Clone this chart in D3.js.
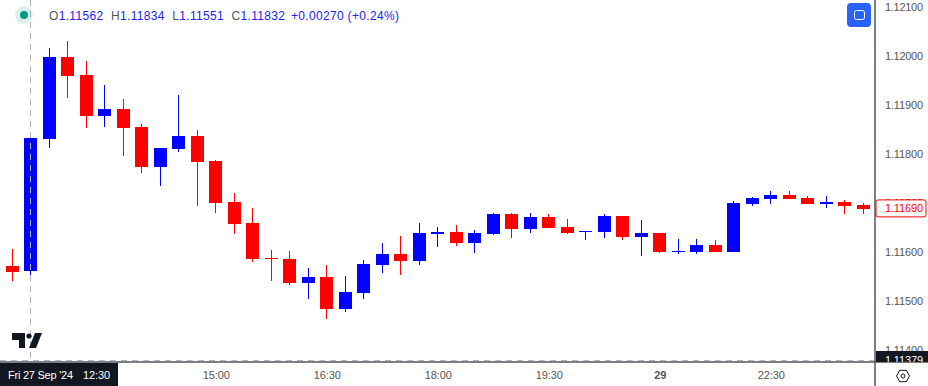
<!DOCTYPE html>
<html>
<head>
<meta charset="utf-8">
<script src="https://cdn.jsdelivr.net/npm/d3@7"></script>
<style>
    html, body { margin: 0; padding: 0; background: #fff; overflow: hidden; }
    text { font-family: "Liberation Sans", sans-serif; }
</style>
</head>
<body>
<svg id="chart" width="928" height="386"></svg>
<script>
const bars = [
    "12:15", "12:30", "12:45", "13:00", "13:15", "13:30", "13:45", "14:00", "14:15", "14:30", "14:45", "15:00",
    "15:15", "15:30", "15:45", "16:00", "16:15", "16:30", "16:45", "17:00", "17:15", "17:30", "17:45", "18:00",
    "18:15", "18:30", "18:45", "19:00", "19:15", "19:30", "19:45", "20:00", "20:15", "20:30", "20:45", "29",
    "21:15", "21:30", "21:45", "22:00", "22:15", "22:30", "22:45", "23:00", "23:15", "23:30", "23:45"
]
const opens = [
    1.11571, 1.11562, 1.11831, 1.11998, 1.11961, 1.11878, 1.11892, 1.11855, 1.11773, 1.11810, 1.11837, 1.11786,
    1.11702, 1.11659, 1.11588, 1.11586, 1.11537, 1.11549, 1.11484, 1.11516, 1.11573, 1.11596, 1.11582, 1.11637,
    1.11641, 1.11618, 1.11637, 1.11678, 1.11647, 1.11671, 1.11651, 1.11641, 1.11641, 1.11673, 1.11631, 1.11639,
    1.11600, 1.11600, 1.11614, 1.11600, 1.11698, 1.11708, 1.11716, 1.11710, 1.11698, 1.11702, 1.11696
]
const highs = [
    1.11606, 1.11834, 1.12016, 1.12031, 1.11990, 1.11941, 1.11912, 1.11861, 1.11812, 1.11920, 1.11849, 1.11788,
    1.11720, 1.11690, 1.11604, 1.11602, 1.11567, 1.11573, 1.11551, 1.11584, 1.11618, 1.11633, 1.11659, 1.11651,
    1.11655, 1.11645, 1.11680, 1.11680, 1.11680, 1.11678, 1.11667, 1.11643, 1.11678, 1.11673, 1.11665, 1.11639,
    1.11627, 1.11627, 1.11624, 1.11704, 1.11712, 1.11724, 1.11724, 1.11714, 1.11714, 1.11706, 1.11700
]
const lows = [
    1.11541, 1.11551, 1.11812, 1.11914, 1.11853, 1.11855, 1.11796, 1.11761, 1.11735, 1.11804, 1.11694, 1.11680,
    1.11637, 1.11580, 1.11541, 1.11533, 1.11504, 1.11463, 1.11478, 1.11504, 1.11557, 1.11553, 1.11573, 1.11610,
    1.11612, 1.11598, 1.11635, 1.11629, 1.11639, 1.11649, 1.11637, 1.11624, 1.11629, 1.11624, 1.11592, 1.11598,
    1.11596, 1.11596, 1.11600, 1.11600, 1.11694, 1.11698, 1.11708, 1.11698, 1.11690, 1.11678, 1.11678
]
const closes = [
    1.11559, 1.11832, 1.11998, 1.11959, 1.11878, 1.11892, 1.11853, 1.11773, 1.11812, 1.11837, 1.11784, 1.11700,
    1.11657, 1.11586, 1.11586, 1.11537, 1.11549, 1.11484, 1.11518, 1.11576, 1.11596, 1.11582, 1.11639, 1.11641,
    1.11618, 1.11639, 1.11678, 1.11647, 1.11671, 1.11649, 1.11639, 1.11643, 1.11673, 1.11631, 1.11639, 1.11600,
    1.11602, 1.11614, 1.11600, 1.11700, 1.11710, 1.11716, 1.11708, 1.11698, 1.11702, 1.11694, 1.11688
]
const priceTicks = [1.114, 1.115, 1.116, 1.117, 1.118, 1.119, 1.12, 1.121]
const timeTicks = ["15:00", "16:30", "18:00", "19:30", "29", "22:30"]
const lastPrice = 1.1169
const crossBar = "12:30"
const crossPrice = 1.11379
const ohlcLegend = [["O", "1.11562"], ["H", "1.11834"], ["L", "1.11551"], ["C", "1.11832"]]
const changeLegend = "+0.00270 (+0.24%)"

const upColor = "#0000ff"
const downColor = "#ff0000"
const axisX = 875
const axisY = 362
const bodyWidth = 13

const svg = d3.select("#chart")
const scX = d3.scalePoint().domain(bars).range([12.25, 863.25])
const scY = d3.scaleLinear().domain([1.114, 1.121]).range([350, 7])

const data = bars.map((b, i) => ({ bar: b, o: opens[i], h: highs[i], l: lows[i], c: closes[i] }))

// candles, snapped to whole pixels like the original canvas
let bodyLeft = d => Math.round(scX(d.bar) - bodyWidth / 2)
let candles = svg.append("g").attr("shape-rendering", "crispEdges")
    .selectAll("g").data(data).enter().append("g")
    .attr("fill", d => d.c >= d.o ? upColor : downColor)
candles.append("rect")
    .attr("x", d => bodyLeft(d) + 6).attr("width", 1)
    .attr("y", d => Math.round(scY(d.h)))
    .attr("height", d => Math.max(1, Math.round(scY(d.l)) - Math.round(scY(d.h))))
candles.append("rect")
    .attr("x", bodyLeft).attr("width", bodyWidth)
    .attr("y", d => Math.round(scY(Math.max(d.o, d.c))))
    .attr("height", d => Math.max(1, Math.round(scY(Math.min(d.o, d.c))) - Math.round(scY(Math.max(d.o, d.c)))))

// crosshair
let cross = svg.append("g").attr("stroke", "#b2b5be").attr("stroke-dasharray", "6 5")
    .attr("shape-rendering", "crispEdges")
cross.append("line")
    .attr("x1", Math.floor(scX(crossBar)) + 0.5).attr("x2", Math.floor(scX(crossBar)) + 0.5)
    .attr("y1", 0).attr("y2", axisY)
cross.append("line")
    .attr("x1", 0).attr("x2", axisX)
    .attr("y1", Math.floor(scY(crossPrice)) + 0.5).attr("y2", Math.floor(scY(crossPrice)) + 0.5)

// price axis
let yAxis = svg.append("g").attr("transform", `translate(${axisX},0)`)
    .call(d3.axisRight(scY).tickValues(priceTicks).tickFormat(d3.format(".5f")).tickSize(0).tickPadding(10))
yAxis.select(".domain").remove()
yAxis.selectAll("text").attr("font-size", 11).attr("fill", "#555")
    .attr("font-family", "Liberation Sans, sans-serif").attr("textLength", 38)

// time axis
let xAxis = svg.append("g").attr("transform", `translate(0,${axisY})`)
    .call(d3.axisBottom(scX).tickValues(timeTicks).tickSize(0).tickPadding(9))
xAxis.select(".domain").remove()
xAxis.selectAll("text").attr("font-size", 11).attr("fill", "#555")
    .attr("font-family", "Liberation Sans, sans-serif")
    .attr("textLength", d => d == "29" ? null : 27)
    .attr("font-weight", d => d == "29" ? "bold" : "normal")

// axis lines
let axisLines = svg.append("g").attr("stroke", "#50535e").attr("stroke-width", 1.5)
axisLines.append("line").attr("x1", 0).attr("x2", 928).attr("y1", axisY).attr("y2", axisY)
axisLines.append("line").attr("x1", axisX).attr("x2", axisX).attr("y1", 0).attr("y2", 386)

// last price tag
let tagY = scY(lastPrice)
svg.append("rect").attr("x", axisX + 1).attr("y", tagY - 8).attr("width", 50).attr("height", 17)
    .attr("rx", 2).attr("fill", "#fff").attr("stroke", downColor)
svg.append("text").attr("x", axisX + 10).attr("y", tagY + 4.5)
    .attr("font-size", 11).attr("fill", downColor).attr("textLength", 38)
    .text(d3.format(".5f")(lastPrice))

// crosshair price label, the text is cut by the time axis
svg.append("clipPath").attr("id", "crossClip").append("rect")
    .attr("x", axisX + 1).attr("y", 351).attr("width", 52).attr("height", axisY - 351)
let crossTag = svg.append("g").attr("clip-path", "url(#crossClip)")
crossTag.append("rect").attr("x", axisX + 1).attr("y", 351).attr("width", 52).attr("height", axisY - 351)
    .attr("fill", "#131722")
crossTag.append("text").attr("x", axisX + 10).attr("y", scY(crossPrice) + 4)
    .attr("font-size", 11).attr("fill", "#fff").attr("textLength", 38)
    .text(d3.format(".5f")(crossPrice))

// crosshair time label
svg.append("rect").attr("x", 0).attr("y", axisY + 1).attr("width", 118).attr("height", 23).attr("fill", "#131722")
svg.append("text").attr("x", 8).attr("y", 379).attr("font-size", 11).attr("fill", "#fff")
    .attr("textLength", 65).text("Fri 27 Sep '24")
svg.append("text").attr("x", 83).attr("y", 379).attr("font-size", 11).attr("fill", "#fff")
    .attr("textLength", 27).text(crossBar)

// legend
svg.append("circle").attr("cx", 24).attr("cy", 15).attr("r", 9).attr("fill", "#089981").attr("fill-opacity", 0.15)
svg.append("circle").attr("cx", 24).attr("cy", 15).attr("r", 4).attr("fill", "#089981")
let legend = svg.append("text").attr("x", 49).attr("y", 20).attr("font-size", 12).attr("letter-spacing", 0.33)
ohlcLegend.forEach((d, i) => {
    legend.append("tspan").attr("fill", "#555").attr("dx", i ? 7.5 : 0).text(d[0])
    legend.append("tspan").attr("fill", "#2222ee").text(d[1])
})
legend.append("tspan").attr("fill", "#2222ee").attr("dx", 5.5).text(changeLegend)

// fit button
svg.append("rect").attr("x", 847).attr("y", 3).attr("width", 24).attr("height", 24).attr("rx", 4).attr("fill", "#2962ff")
svg.append("rect").attr("x", 854.5).attr("y", 10.5).attr("width", 10).attr("height", 9).attr("rx", 2)
    .attr("fill", "none").attr("stroke", "#fff")

// settings hexagon
svg.append("path").attr("d", "M896.5 376l3.2-5.7h6.6l3.2 5.7-3.2 5.7h-6.6z")
    .attr("fill", "none").attr("stroke", "#131722")
svg.append("circle").attr("cx", 903).attr("cy", 376).attr("r", 2).attr("fill", "none").attr("stroke", "#131722")

// logo
let logo = svg.append("g").attr("fill", "#131722")
logo.append("path").attr("d", "M12 333h13v15h-6v-8h-7z")
logo.append("circle").attr("cx", 29).attr("cy", 336).attr("r", 2.6)
logo.append("path").attr("d", "M35 333h7l-6 15h-7z")
</script>
</body>
</html>
